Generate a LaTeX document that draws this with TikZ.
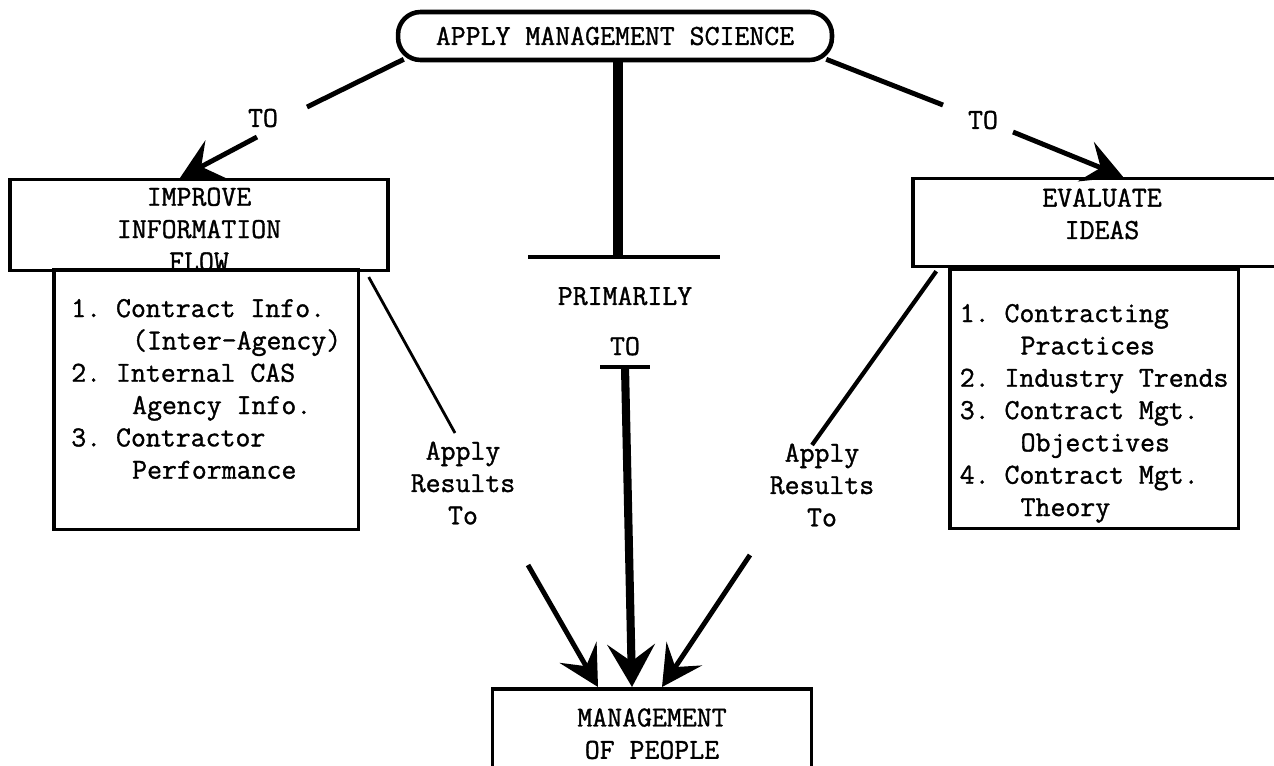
\documentclass[tikz,border=0pt]{standalone}
\usepackage{fontspec}
\newfontfamily\typewriter{Latin Modern Mono}[FakeBold=1.2]
\usepackage{tikz}
\usetikzlibrary{positioning}
\usetikzlibrary{shapes.geometric, arrows.meta}
\tikzstyle{titlebox} = [rectangle, rounded corners=0.45cm, minimum width=8.68cm, minimum height=0.96cm, text centered, draw=black, line width=2.6pt]
\tikzstyle{basicblock} = [rectangle, minimum width=7.56cm, minimum height=1.76cm, align=center, draw=black, line width=2pt]
\tikzstyle{listblock} = [rectangle, anchor=north west, align=left, inner xsep=0.2cm, draw=black, fill=white, line width=2pt]
\tikzstyle{tolabel} = [inner sep=2pt]
\tikzstyle{arrow} = [line width=2.8pt, -{Stealth[length=0.8cm, width=0.85cm, inset=0.32cm]}]
\tikzstyle{heavyarrow} = [line width=4.6pt, -{Stealth[length=0.85cm, width=0.95cm, inset=0.34cm]}]
\tikzstyle{toline} = [line width=2.8pt]
\tikzstyle{thinline} = [line width=1.6pt]
\tikzstyle{heavyline} = [line width=5.6pt]
\tikzstyle{barline} = [line width=2.6pt]
\newcommand{\listindent}{\hspace*{2.1em}}

\begin{document}
\begin{tikzpicture}[x=0.02cm, y=-0.02cm, font=\typewriter\frenchspacing\fontsize{16.5}{18.4}\selectfont]
	\useasboundingbox (0,0) rectangle (1274,765);
	
	\node (apply) [titlebox] at (615,36) {APPLY MANAGEMENT SCIENCE};
	
	\node (improve) [basicblock, inner ysep=0pt, text height=51.6pt, text depth=-2.8pt] at (199,225) {IMPROVE\\INFORMATION\\FLOW};
	\node (improveList) [listblock, minimum width=6.1cm, minimum height=5.2cm] at (52,268) {1. Contract Info.\\\listindent(Inter-Agency)\\2. Internal CAS\\\listindent Agency Info.\\3. Contractor\\\listindent Performance\rule[-12.4pt]{0pt}{12.4pt}};
	
	\node (evaluate) [basicblock] at (1102,222.5) {EVALUATE\\IDEAS\rule[-10pt]{0pt}{10pt}};
	\node (evaluateList) [listblock, minimum width=5.64cm, minimum height=5.16cm] at (948,267) {\rule{0pt}{27pt}1. Contracting\\\listindent Practices\\2. Industry Trends\\3. Contract Mgt.\\\listindent Objectives\\4. Contract Mgt.\\\listindent Theory};
	
	\node (people) [basicblock, anchor=north, minimum width=6.38cm, minimum height=1.8cm] at (652,687) {MANAGEMENT\\OF PEOPLE};
	
	\node (toL) [tolabel] at (263,118) {TO};
	\node (toR) [tolabel] at (983,120) {TO};
	\node (primarily) [tolabel] at (625,296) {PRIMARILY};
	\node (toC) [tolabel, below=0.48cm of primarily] {TO};
	\node (applyL) [tolabel, align=center] at (463,483) {Apply\\Results\\To};
	\node (applyR) [tolabel, align=center] at (822,485) {Apply\\Results\\To};
	
	\coordinate (upperBar) at (618,257);
	\coordinate (lowerBar) at (625,367);
	
	\draw [toline] ([shift={(8,-3)}]apply.south west) -- ([shift={(44,-11)}]toL.center);
	\draw [arrow] ([shift={(-6,19)}]toL.center) -- ([shift={(-19,0)}]improve.north);
	\draw [toline] ([shift={(-8,-3)}]apply.south east) -- ([shift={(-40,-15)}]toR.center);
	\draw [arrow] ([shift={(30,12)}]toR.center) -- ([shift={(21,0)}]evaluate.north);
	
	\draw [heavyline] (apply.south -| upperBar) -- (upperBar);
	\draw [barline] ([shift={(-90,0)}]upperBar) -- ([shift={(102,0)}]upperBar);
	\draw [barline] ([shift={(-25,0)}]lowerBar) -- ([shift={(25,0)}]lowerBar);
	\draw [heavyarrow] (lowerBar) -- ([shift={(-20,0)}]people.north);
	
	\draw [thinline] ([shift={(-21,5)}]improve.south east) -- ([shift={(-8,-50)}]applyL.center);
	\draw [arrow] ([shift={(65,82)}]applyL.center) -- ([shift={(-54,0)}]people.north);
	\draw [thinline, line width=2.4pt] ([shift={(25,3)}]evaluate.south west) -- ([shift={(-10,-40)}]applyR.center);
	\draw [arrow] ([shift={(-72,70)}]applyR.center) -- ([shift={(10,0)}]people.north);
\end{tikzpicture}
\end{document}
